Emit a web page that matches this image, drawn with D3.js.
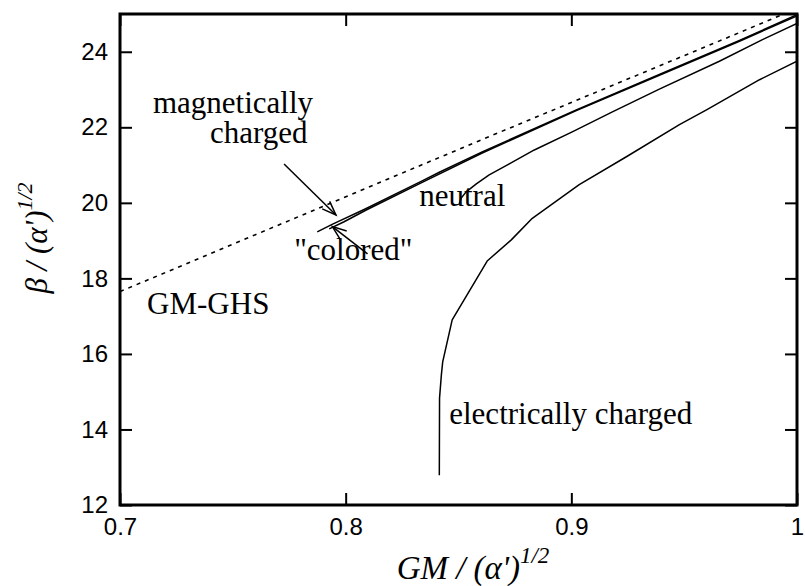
<script src="https://d3js.org/d3.v7.min.js"></script>
<body style="margin:0;background:#fff">
</body>
<script>
// curves, [GM, beta]
const ghs = [[0.7, 17.65], [0.757, 19.08], [0.859, 21.64], [0.967, 24.32], [1.0, 25.15]];
const magnetic = [[0.7874, 19.23], [0.794, 19.43], [0.8091, 19.85], [0.8339, 20.58], [0.8415, 20.81],
  [0.8605, 21.35], [0.9022, 22.46], [0.939, 23.40], [0.9745, 24.30], [1.0, 24.98]];
const colored = [[0.7927, 19.31], [0.7993, 19.50], [0.8091, 19.81], [0.8339, 20.54], [0.8605, 21.32],
  [0.9022, 22.44], [0.939, 23.38], [0.9745, 24.28], [1.0, 24.95]];
const neutral = [[0.8503, 19.97], [0.8512, 20.13], [0.8534, 20.29], [0.8579, 20.50], [0.8636, 20.74],
  [0.8725, 21.03], [0.8836, 21.40], [0.9004, 21.88], [0.9182, 22.41], [0.939, 23.01],
  [0.9656, 23.75], [0.9847, 24.32], [1.0, 24.75]];
const electric = [[0.8415, 12.79], [0.8416, 14.83], [0.8424, 15.44], [0.843, 15.79], [0.8472, 16.90],
  [0.8627, 18.46], [0.8734, 19.02], [0.8827, 19.59], [0.9035, 20.48], [0.9244, 21.22],
  [0.9479, 22.07], [0.9599, 22.46], [0.9834, 23.26], [1.0, 23.75]];

const xTicks = [0.7, 0.8, 0.9, 1];
const xTickLabels = ["0.7", "0.8", "0.9", "1"];
const yTicks = [12, 14, 16, 18, 20, 22, 24];

// labels: text, x, y (data coords of left baseline)
const labels = [
  ["magnetically", 0.7146, 22.38],
  ["charged", 0.7399, 21.59],
  ["neutral", 0.8326, 19.92],
  ["\"colored\"", 0.7772, 18.50],
  ["GM-GHS", 0.7120, 17.06],
  ["electrically charged", 0.8459, 14.15]
];
// arrows: from -> to
const arrows = [
  [[0.7727, 21.03], [0.7957, 19.68]],
  [[0.8097, 18.65], [0.7941, 19.37]]
];

const W = 805, H = 586;
const mLeft = 120, mRight = 797, mTop = 14, mBottom = 505;

const svg = d3.select("body").append("svg")
  .attr("width", W).attr("height", H);

const x = d3.scaleLinear().domain([0.7, 1.0]).range([mLeft, mRight]);
const y = d3.scaleLinear().domain([12, 25]).range([mBottom, mTop]);

svg.append("clipPath").attr("id", "clip")
  .append("rect").attr("x", mLeft).attr("y", mTop)
  .attr("width", mRight - mLeft).attr("height", mBottom - mTop);

const line = d3.line().x(d => x(d[0])).y(d => y(d[1]));

const plot = svg.append("g").attr("clip-path", "url(#clip)");

plot.append("path").datum(ghs)
  .attr("d", line).attr("fill", "none").attr("stroke", "#000")
  .attr("stroke-width", 1.6).attr("stroke-dasharray", "4,5");

[magnetic, colored, neutral, electric].forEach(s => {
  plot.append("path").datum(s)
    .attr("d", line).attr("fill", "none").attr("stroke", "#000")
    .attr("stroke-width", 1.5).attr("stroke-linejoin", "round");
});

// ticks (inward, mirrored)
const tickFont = "'Liberation Sans', Arial, sans-serif";
const gl = svg.append("g").attr("transform", `translate(${mLeft},0)`)
  .call(d3.axisLeft(y).tickValues(yTicks).tickSize(-12).tickPadding(12).tickFormat(d3.format("d")));
const gr = svg.append("g").attr("transform", `translate(${mRight},0)`)
  .call(d3.axisRight(y).tickValues(yTicks).tickSize(-12).tickFormat(""));
const gb = svg.append("g").attr("transform", `translate(0,${mBottom})`)
  .call(d3.axisBottom(x).tickValues(xTicks).tickSize(-12).tickPadding(13)
    .tickFormat((d, i) => xTickLabels[i]));
const gt = svg.append("g").attr("transform", `translate(0,${mTop})`)
  .call(d3.axisTop(x).tickValues(xTicks).tickSize(-12).tickFormat(""));

[gl, gr, gb, gt].forEach(g => {
  g.select(".domain").remove();
  g.selectAll(".tick line").attr("stroke", "#000").attr("stroke-width", 2);
  g.selectAll("text").attr("fill", "#000").style("font-family", tickFont).style("font-size", "24px");
});

svg.append("rect").attr("x", mLeft).attr("y", mTop)
  .attr("width", mRight - mLeft).attr("height", mBottom - mTop)
  .attr("fill", "none").attr("stroke", "#000").attr("stroke-width", 3);

// annotations
const serif = "'Liberation Serif', 'Times New Roman', serif";
svg.selectAll(".lab").data(labels).enter().append("text")
  .attr("x", d => x(d[1])).attr("y", d => y(d[2]))
  .style("font-family", serif).style("font-size", "31px")
  .text(d => d[0]);

arrows.forEach(a => {
  const x0 = x(a[0][0]), y0 = y(a[0][1]), x1 = x(a[1][0]), y1 = y(a[1][1]);
  const ang = Math.atan2(y1 - y0, x1 - x0);
  const L = 15, sp = 0.36;
  svg.append("line").attr("x1", x0).attr("y1", y0).attr("x2", x1).attr("y2", y1)
    .attr("stroke", "#000").attr("stroke-width", 1.5);
  const p1 = [x1 - L * Math.cos(ang - sp), y1 - L * Math.sin(ang - sp)];
  const p2 = [x1 - L * Math.cos(ang + sp), y1 - L * Math.sin(ang + sp)];
  svg.append("path").attr("d", `M${p1}L${x1},${y1}L${p2}`)
    .attr("fill", "none").attr("stroke", "#000").attr("stroke-width", 1.5);
});

// axis titles
const xt = svg.append("text").attr("x", 473).attr("y", 579).attr("text-anchor", "middle")
  .style("font-family", serif).style("font-size", "33px").style("font-style", "italic");
xt.append("tspan").text("GM / (\u03b1')");
xt.append("tspan").attr("dy", -16).style("font-size", "23px").text("1/2");

const yt = svg.append("text").attr("transform", "translate(47,238) rotate(-90)").attr("text-anchor", "middle")
  .style("font-family", serif).style("font-size", "31px").style("font-style", "italic");
yt.append("tspan").text("\u03b2 / (\u03b1')");
yt.append("tspan").attr("dy", -15).style("font-size", "22px").text("1/2");
</script>
